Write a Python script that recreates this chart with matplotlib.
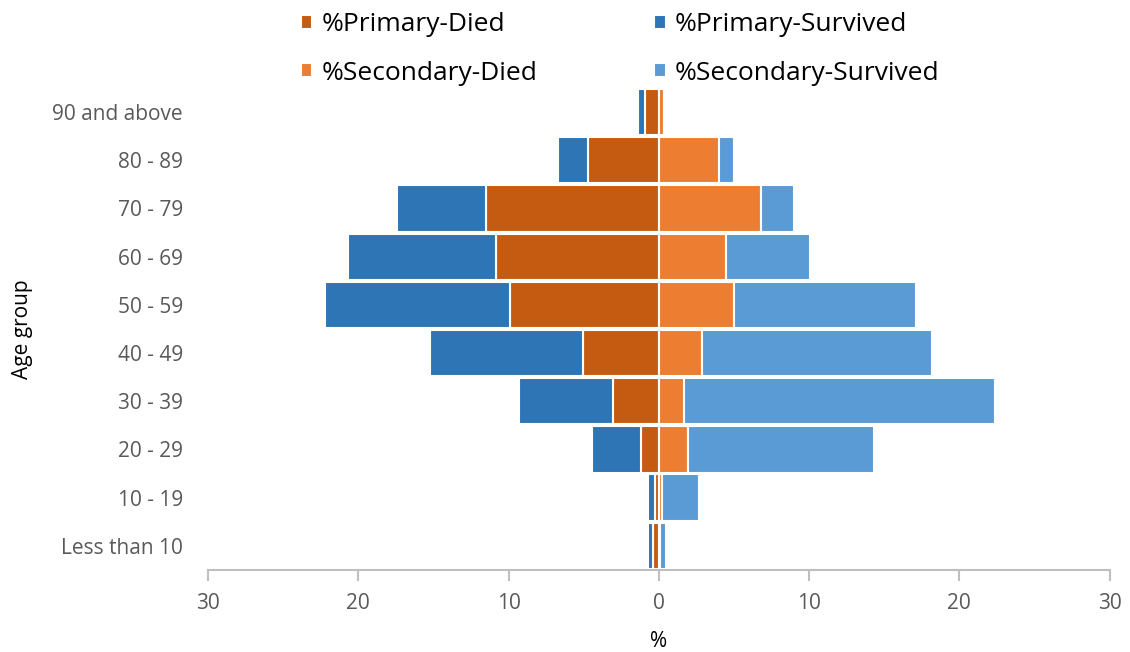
import matplotlib.pyplot as plt
import numpy as np

plt.rcParams['font.family'] = ['Open Sans', 'DejaVu Sans']

age_groups = ["Less than 10", "10 - 19", "20 - 29", "30 - 39", "40 - 49",
              "50 - 59", "60 - 69", "70 - 79", "80 - 89", "90 and above"]
primary_died = [0.4, 0.25, 1.2, 3.05, 5.05, 9.9, 10.85, 11.5, 4.7, 0.9]
primary_survived = [0.3, 0.45, 3.25, 6.25, 10.2, 12.3, 9.8, 5.9, 2.0, 0.5]
secondary_died = [0.1, 0.2, 1.95, 1.65, 2.9, 5.0, 4.5, 6.8, 4.0, 0.35]
secondary_survived = [0.35, 2.5, 12.35, 20.75, 15.3, 12.1, 5.55, 2.2, 1.0, 0.0]

c_pd = "#C55A11"
c_ps = "#2E75B6"
c_sd = "#ED7D31"
c_ss = "#5B9BD5"

fig = plt.figure(figsize=(11.3, 6.52), dpi=100)
ax = fig.add_axes([0.184, 0.126, 0.798, 0.739])

y = np.arange(len(age_groups))
pd_ = -np.array(primary_died)
ps_ = -np.array(primary_survived)
h = 0.96
kw = dict(height=h, edgecolor="white", linewidth=1.5)
b1 = ax.barh(y, pd_, color=c_pd, label="%Primary-Died", **kw)
b2 = ax.barh(y, ps_, left=pd_, color=c_ps, label="%Primary-Survived", **kw)
b3 = ax.barh(y, secondary_died, color=c_sd, label="%Secondary-Died", **kw)
b4 = ax.barh(y, secondary_survived, left=secondary_died, color=c_ss,
             label="%Secondary-Survived", **kw)

ax.set_xlim(-30, 30)
ax.set_ylim(-0.5, len(age_groups) - 0.5)
ax.set_xticks([-30, -20, -10, 0, 10, 20, 30])
ax.set_xticklabels(["30", "20", "10", "0", "10", "20", "30"])
ax.set_yticks(y)
ax.set_yticklabels(age_groups)

for s in ["top", "right", "left"]:
    ax.spines[s].set_visible(False)
ax.spines["bottom"].set_color("#BFBFBF")
ax.spines["bottom"].set_linewidth(1.5)
ax.tick_params(axis="x", colors="#BFBFBF", length=8, width=1.5,
               labelcolor="#595959", labelsize=15, pad=9)
ax.tick_params(axis="y", length=0, labelcolor="#595959", labelsize=15, pad=18)

ax.set_xlabel("%", fontsize=15, color="black", labelpad=12)
ax.set_ylabel("Age group", fontsize=15, color="black", labelpad=14)

fig.legend(handles=[b1, b3, b2, b4], ncol=2, loc="upper left",
           bbox_to_anchor=(0.245, 1.018), frameon=False, fontsize=19,
           handlelength=0.45, handleheight=0.45, handletextpad=0.35,
           columnspacing=4.4, labelspacing=0.9)

fig.savefig("out.png", dpi=100)
